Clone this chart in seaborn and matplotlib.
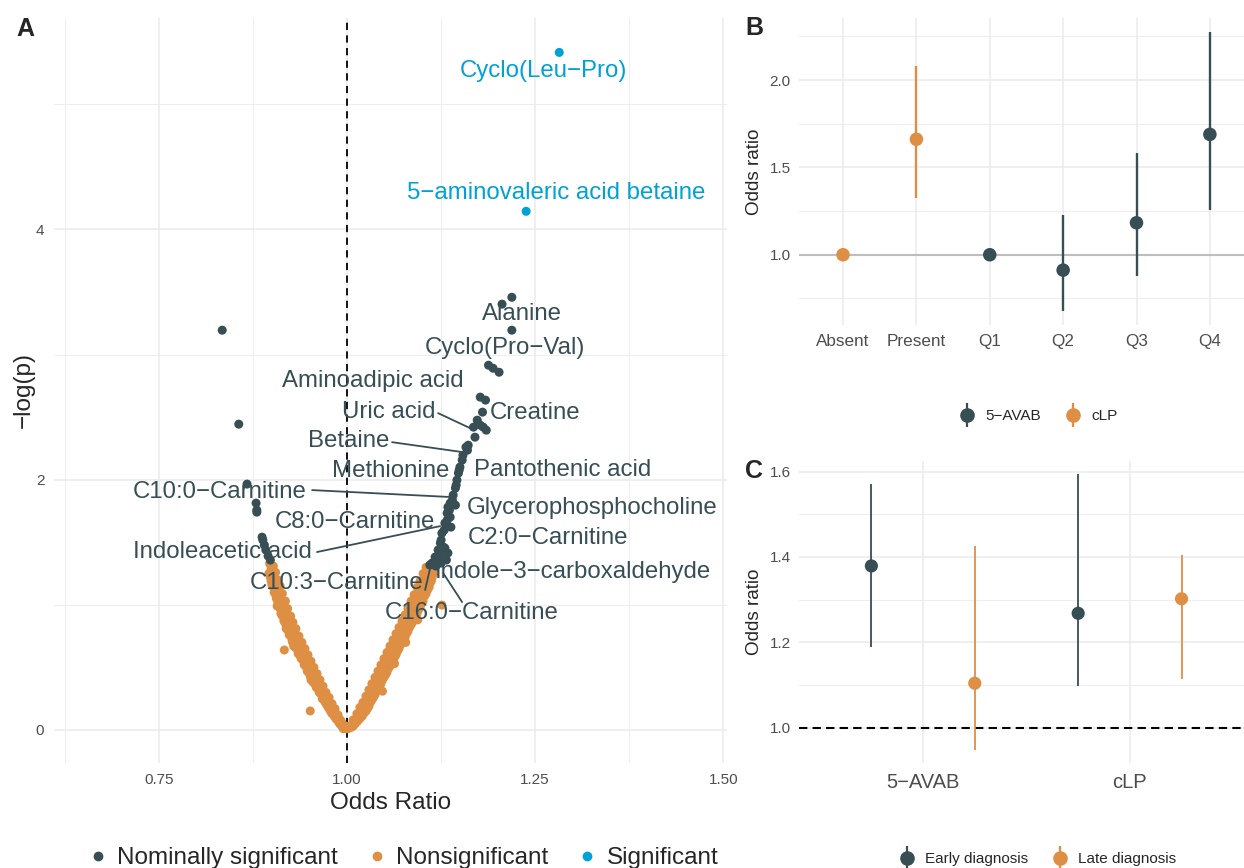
import numpy as np
import pandas as pd
import matplotlib
matplotlib.use("Agg")
import matplotlib.pyplot as plt
import seaborn as sns
from matplotlib.lines import Line2D
from matplotlib.legend_handler import HandlerTuple

sns.set_style("white")
plt.rcParams['font.family'] = ['Liberation Sans', 'DejaVu Sans']

DARK = "#374E55"
ORANGE = "#DF8F44"
BLUE = "#00A1D5"
GRID = "#EBEBEB"
TICKC = "#4D4D4D"

# ---------------- Panel A data ----------------
sig_or = [1.282, 1.238]
sig_logp = [5.415, 4.145]

nom_or = [0.834, 0.856, 0.867, 0.879, 0.880, 0.880, 0.887, 0.888, 0.890, 0.892, 0.895, 0.898,
          1.219, 1.206, 1.219, 1.188, 1.194, 1.202,
          1.177, 1.184, 1.180, 1.173, 1.168, 1.177, 1.181, 1.185, 1.170, 1.161, 1.160, 1.158,
          1.153, 1.154, 1.150, 1.148, 1.149, 1.146, 1.144, 1.145, 1.140, 1.134, 1.137, 1.133,
          1.137, 1.130, 1.133, 1.126, 1.129, 1.124, 1.125, 1.121, 1.128, 1.117, 1.124, 1.113,
          1.120, 1.130, 1.110, 1.118, 1.125, 1.132, 1.134, 1.141, 1.136, 1.138, 1.144]
nom_logp = [3.195, 2.444, 1.965, 1.813, 1.757, 1.741, 1.541, 1.518, 1.478, 1.438, 1.390, 1.358,
            3.458, 3.403, 3.195, 2.915, 2.891, 2.859,
            2.660, 2.636, 2.540, 2.476, 2.420, 2.436, 2.420, 2.396, 2.340, 2.276, 2.236, 2.260,
            2.157, 2.196, 2.101, 2.053, 2.077, 1.997, 1.933, 1.957, 1.837, 1.781, 1.813, 1.733,
            1.701, 1.653, 1.677, 1.573, 1.597, 1.494, 1.518, 1.438, 1.462, 1.382, 1.398, 1.334,
            1.358, 1.454, 1.318, 1.310, 1.334, 1.358, 1.414, 1.877, 1.757, 1.621, 1.797]

nonsig_or = [
    # left branch
    0.999, 0.994, 0.989, 0.985, 0.981, 0.977, 0.973, 0.969, 0.965, 0.961, 0.957, 0.953, 0.949, 0.945,
    0.941, 0.937, 0.933, 0.929, 0.925, 0.921, 0.918, 0.914, 0.911, 0.908, 0.905, 0.902, 0.899, 0.897,
    0.996, 0.992, 0.988, 0.984, 0.980, 0.976, 0.972, 0.968, 0.964, 0.960, 0.956, 0.952, 0.948,
    0.944, 0.940, 0.936, 0.932, 0.928, 0.925, 0.921, 0.918, 0.914, 0.911, 0.908, 0.905, 0.902,
    0.993, 0.988, 0.983, 0.978, 0.974, 0.970, 0.966, 0.962, 0.958, 0.954, 0.950, 0.946, 0.942,
    0.938, 0.934, 0.930, 0.926, 0.922, 0.918, 0.914, 0.911, 0.908, 0.905, 0.902, 0.899, 0.896,
    0.997, 0.991, 0.987, 0.983, 0.978, 0.975, 0.971, 0.967, 0.963, 0.959, 0.955, 0.951, 0.947,
    0.943, 0.939, 0.935, 0.931, 0.927, 0.923, 0.920, 0.916, 0.913, 0.910, 0.907, 0.904, 0.901,
    0.995, 0.990, 0.985, 0.980, 0.976, 0.972, 0.967, 0.963, 0.959, 0.955, 0.951, 0.947, 0.943,
    0.939, 0.935, 0.931, 0.927, 0.923, 0.919, 0.916, 0.912, 0.909, 0.906, 0.903, 0.900, 0.898,
    0.9166, 0.951, 0.907, 0.929, 0.952, 0.939, 0.928,
    # right branch
    1.001, 1.006, 1.011, 1.016, 1.021, 1.025, 1.029, 1.033, 1.037, 1.041, 1.045, 1.049, 1.053, 1.057,
    1.061, 1.065, 1.069, 1.073, 1.077, 1.081, 1.085, 1.089, 1.093, 1.097, 1.101, 1.105, 1.108, 1.111, 1.113,
    1.003, 1.008, 1.013, 1.017, 1.021, 1.025, 1.029, 1.033, 1.037, 1.041, 1.045, 1.049, 1.053,
    1.057, 1.061, 1.065, 1.069, 1.073, 1.077, 1.081, 1.085, 1.089, 1.093, 1.097, 1.101, 1.105,
    1.005, 1.011, 1.017, 1.022, 1.027, 1.031, 1.035, 1.039, 1.043, 1.047, 1.051, 1.055, 1.059,
    1.063, 1.067, 1.071, 1.075, 1.079, 1.083, 1.087, 1.091, 1.095, 1.099, 1.103, 1.107, 1.110, 1.113, 1.116,
    1.003, 1.009, 1.014, 1.019, 1.023, 1.027, 1.031, 1.035, 1.039, 1.043, 1.047, 1.051, 1.055,
    1.059, 1.063, 1.067, 1.071, 1.075, 1.079, 1.083, 1.087, 1.091, 1.095, 1.099, 1.103, 1.107, 1.110,
    1.008, 1.014, 1.020, 1.025, 1.029, 1.033, 1.037, 1.041, 1.045, 1.049, 1.053, 1.057, 1.061,
    1.065, 1.069, 1.073, 1.077, 1.081, 1.085, 1.089, 1.093, 1.097, 1.101, 1.105, 1.109, 1.112, 1.115,
    1.126, 1.047, 1.063, 1.078, 1.094]
nonsig_logp = [
    0.01, 0.05, 0.09, 0.13, 0.17, 0.22, 0.26, 0.31, 0.35, 0.39, 0.44, 0.49, 0.53, 0.58,
    0.62, 0.67, 0.72, 0.77, 0.83, 0.89, 0.94, 1.01, 1.06, 1.12, 1.17, 1.23, 1.29, 1.33,
    0.02, 0.07, 0.12, 0.17, 0.21, 0.26, 0.30, 0.35, 0.40, 0.45, 0.50, 0.55, 0.60,
    0.65, 0.70, 0.75, 0.81, 0.86, 0.91, 0.97, 1.03, 1.09, 1.15, 1.20, 1.26, 1.31,
    0.03, 0.07, 0.11, 0.15, 0.19, 0.23, 0.28, 0.32, 0.36, 0.41, 0.45, 0.50, 0.55,
    0.59, 0.64, 0.69, 0.74, 0.79, 0.85, 0.91, 0.97, 1.02, 1.08, 1.14, 1.19, 1.25,
    0.03, 0.08, 0.11, 0.15, 0.20, 0.24, 0.28, 0.33, 0.37, 0.42, 0.46, 0.51, 0.56,
    0.60, 0.65, 0.70, 0.75, 0.80, 0.86, 0.92, 0.98, 1.04, 1.09, 1.14, 1.20, 1.26,
    0.01, 0.05, 0.09, 0.13, 0.17, 0.21, 0.25, 0.30, 0.34, 0.38, 0.43, 0.47, 0.52,
    0.57, 0.61, 0.66, 0.71, 0.76, 0.81, 0.87, 0.93, 0.99, 1.05, 1.10, 1.16, 1.22,
    0.639, 0.152, 0.99, 0.67, 0.40, 0.58, 0.70,
    0.01, 0.04, 0.08, 0.12, 0.16, 0.20, 0.25, 0.29, 0.34, 0.39, 0.44, 0.49, 0.54, 0.59,
    0.64, 0.68, 0.73, 0.78, 0.83, 0.88, 0.93, 0.98, 1.04, 1.09, 1.14, 1.19, 1.24, 1.29, 1.33,
    0.03, 0.08, 0.13, 0.18, 0.22, 0.27, 0.32, 0.37, 0.42, 0.47, 0.52, 0.57, 0.62,
    0.67, 0.72, 0.77, 0.82, 0.87, 0.92, 0.97, 1.03, 1.08, 1.14, 1.19, 1.25, 1.30,
    0.02, 0.05, 0.09, 0.13, 0.17, 0.22, 0.26, 0.31, 0.35, 0.40, 0.44, 0.49, 0.54,
    0.58, 0.63, 0.68, 0.72, 0.77, 0.82, 0.86, 0.91, 0.96, 1.01, 1.07, 1.12, 1.17, 1.22, 1.28,
    0.02, 0.06, 0.10, 0.14, 0.18, 0.23, 0.27, 0.32, 0.36, 0.41, 0.46, 0.51, 0.56,
    0.61, 0.66, 0.70, 0.75, 0.80, 0.85, 0.90, 0.95, 1.00, 1.06, 1.11, 1.16, 1.21, 1.27,
    0.03, 0.07, 0.11, 0.15, 0.19, 0.24, 0.28, 0.33, 0.37, 0.42, 0.46, 0.51, 0.56,
    0.60, 0.65, 0.70, 0.74, 0.79, 0.84, 0.88, 0.93, 0.98, 1.03, 1.09, 1.14, 1.19, 1.25,
    0.998, 0.31, 0.53, 0.70, 0.88]

group_names = ["Nominally significant", "Nonsignificant", "Significant"]
group_colors = [DARK, ORANGE, BLUE]

# repelled label placement (data coords) and colours
label_text = ["Cyclo(Leu−Pro)", "5−aminovaleric acid betaine", "Alanine", "Cyclo(Pro−Val)",
              "Aminoadipic acid", "Uric acid", "Creatine", "Betaine", "Methionine",
              "Pantothenic acid", "C10:0−Carnitine", "Glycerophosphocholine", "C8:0−Carnitine",
              "C2:0−Carnitine", "Indoleacetic acid", "C10:3−Carnitine",
              "Indole−3−carboxaldehyde", "C16:0−Carnitine"]
label_x = [1.2606, 1.278, 1.2327, 1.210, 1.0346, 1.0559, 1.250, 1.0027, 1.0585, 1.286,
           0.8311, 1.3258, 1.0106, 1.2673, 0.8338, 0.9867, 1.3005, 1.166]
label_y = [5.264, 4.289, 3.323, 3.051, 2.788, 2.540, 2.532, 2.308, 2.069, 2.077,
           1.901, 1.773, 1.661, 1.534, 1.422, 1.174, 1.262, 0.934]
label_sig = [True, True] + [False] * 16
seg_x0 = [1.121, 1.0598, 0.9535, 0.960, 1.1529, 1.1037]
seg_y0 = [2.532, 2.300, 1.917, 1.422, 1.022, 1.118]
seg_x1 = [1.1636, 1.1543, 1.1396, 1.1237, 1.1277, 1.1104]
seg_y1 = [2.412, 2.220, 1.861, 1.629, 1.254, 1.294]

# ---------------- Panel B data ----------------
b_cats = ["Absent", "Present", "Q1", "Q2", "Q3", "Q4"]
b_group = ["cLP", "cLP", "5−AVAB", "5−AVAB", "5−AVAB", "5−AVAB"]
b_or = [1.0, 1.661, 1.0, 0.912, 1.183, 1.689]
b_lo = [1.0, 1.325, 1.0, 0.680, 0.878, 1.256]
b_hi = [1.0, 2.082, 1.0, 1.227, 1.580, 2.273]
b_groups = ["5−AVAB", "cLP"]
b_colors = [DARK, ORANGE]

# ---------------- Panel C data ----------------
c_cats = ["5−AVAB", "cLP"]
c_timing = ["Early diagnosis", "Late diagnosis"]
c_early_or = [1.379, 1.268]
c_early_lo = [1.189, 1.098]
c_early_hi = [1.571, 1.594]
c_late_or = [1.104, 1.302]
c_late_lo = [0.948, 1.113]
c_late_hi = [1.426, 1.405]

# ---------------- figure ----------------
W, H = 1244, 868
fig = plt.figure(figsize=(W / 100, H / 100), dpi=100)


def rect(x0, y0, x1, y1):
    return [x0 / W, 1 - y1 / H, (x1 - x0) / W, (y1 - y0) / H]


axA = fig.add_axes(rect(54, 18, 727, 763))
axB = fig.add_axes(rect(799, 18, 1244, 325))
axC = fig.add_axes(rect(799, 461, 1244, 763))

for ax in (axA, axB, axC):
    for s in ax.spines.values():
        s.set_visible(False)
    ax.set_axisbelow(True)
    ax.tick_params(which='both', length=0, labelcolor=TICKC)

# ---- Panel A ----
dfA = pd.DataFrame({
    "OR": nonsig_or + nom_or + sig_or,
    "logp": nonsig_logp + nom_logp + sig_logp,
    "group": ["Nonsignificant"] * len(nonsig_or) + ["Nominally significant"] * len(nom_or)
             + ["Significant"] * len(sig_or),
})
sns.scatterplot(data=dfA, x="OR", y="logp", hue="group", hue_order=group_names,
                palette=dict(zip(group_names, group_colors)), s=42, linewidth=0,
                alpha=1, legend=False, ax=axA, zorder=3)
axA.axvline(1.0, color="black", lw=1.3, ls=(0, (4, 3)), zorder=2)
for x0, y0, x1, y1 in zip(seg_x0, seg_y0, seg_x1, seg_y1):
    axA.plot([x0, x1], [y0, y1], color=DARK, lw=1.3, zorder=4)
for t, x, y, sg in zip(label_text, label_x, label_y, label_sig):
    axA.text(x, y, t, ha="center", va="center", fontsize=17.3,
             color=BLUE if sg else DARK, zorder=5)
axA.set_xlim(0.6104, 1.505)
axA.set_ylim(-0.264, 5.69)
axA.set_xticks([0.75, 1.0, 1.25, 1.5])
axA.set_xticklabels(["0.75", "1.00", "1.25", "1.50"])
axA.set_xticks([0.625, 0.875, 1.125, 1.375], minor=True)
axA.set_yticks([0, 2, 4])
axA.set_yticks([1, 3, 5], minor=True)
axA.grid(which="major", color=GRID, lw=1.1)
axA.grid(which="minor", color=GRID, lw=0.6)
axA.tick_params(labelsize=11, pad=7)
axA.set_xlabel("Odds Ratio", fontsize=17.5, labelpad=4)
axA.set_ylabel("−log(p)", fontsize=17.5, labelpad=1)

# ---- Panel B ----
b_pos = np.arange(len(b_cats))
dfB = pd.DataFrame({"pos": b_pos, "OR": b_or, "lo": b_lo, "hi": b_hi, "group": b_group})
axB.axhline(1.0, color="#BEBEBE", lw=1.5, zorder=1)
for g, c in zip(b_groups, b_colors):
    sub = dfB[dfB.group == g]
    axB.vlines(sub.pos, sub.lo, sub.hi, color=c, lw=1.7, zorder=2)
sns.scatterplot(data=dfB, x="pos", y="OR", hue="group", hue_order=b_groups,
                palette=dict(zip(b_groups, b_colors)), s=95, linewidth=0,
                legend=False, ax=axB, zorder=3)
axB.set_xlim(-0.6, 5.465)
axB.set_ylim(0.598, 2.355)
axB.set_xticks(b_pos)
axB.set_xticklabels(b_cats)
axB.set_yticks([1.0, 1.5, 2.0])
axB.set_yticklabels(["1.0", "1.5", "2.0"])
axB.set_yticks([0.75, 1.25, 1.75, 2.25], minor=True)
axB.grid(which="major", color=GRID, lw=1.1)
axB.grid(which="minor", axis="y", color=GRID, lw=0.6)
axB.tick_params(axis="x", labelsize=12.3, pad=6.5)
axB.tick_params(axis="y", labelsize=11, pad=6)
axB.set_xlabel("")
axB.set_ylabel("Odds ratio", fontsize=13.6, labelpad=5)

# ---- Panel C ----
c_pos = np.arange(len(c_cats))
dfC = pd.DataFrame({
    "pos": np.concatenate([c_pos - 0.25, c_pos + 0.25]),
    "OR": c_early_or + c_late_or,
    "lo": c_early_lo + c_late_lo,
    "hi": c_early_hi + c_late_hi,
    "timing": [c_timing[0]] * len(c_cats) + [c_timing[1]] * len(c_cats),
})
axC.axhline(1.0, color="black", lw=1.5, ls=(0, (4, 2.5)), zorder=1)
for g, c in zip(c_timing, [DARK, ORANGE]):
    sub = dfC[dfC.timing == g]
    axC.vlines(sub.pos, sub.lo, sub.hi, color=c, lw=1.3, zorder=2)
sns.scatterplot(data=dfC, x="pos", y="OR", hue="timing", hue_order=c_timing,
                palette=dict(zip(c_timing, [DARK, ORANGE])), s=90, linewidth=0,
                legend=False, ax=axC, zorder=3)
axC.set_xlim(-0.6, 1.552)
axC.set_ylim(0.917, 1.625)
axC.set_xticks(c_pos)
axC.set_xticklabels(c_cats)
axC.set_yticks([1.0, 1.2, 1.4, 1.6])
axC.set_yticklabels(["1.0", "1.2", "1.4", "1.6"])
axC.set_yticks([1.1, 1.3, 1.5], minor=True)
axC.grid(which="major", color=GRID, lw=1.1)
axC.grid(which="minor", axis="y", color=GRID, lw=0.6)
axC.tick_params(axis="x", labelsize=14.5, pad=7)
axC.tick_params(axis="y", labelsize=11, pad=6)
axC.set_xlabel("")
axC.set_ylabel("Odds ratio", fontsize=13.6, labelpad=5)

# ---- legends ----
hA = [Line2D([], [], marker="o", ls="none", color=c, markersize=6) for c in group_colors]
fig.legend(hA, group_names, loc="center", bbox_to_anchor=(402 / W, 1 - 858 / H), ncol=3,
           frameon=False, fontsize=17.5, handletextpad=0.3, columnspacing=1.1, handlelength=1.0)


def pr_handle(c):
    return (Line2D([], [], marker="|", ls="none", color=c, markersize=17, markeredgewidth=1.6),
            Line2D([], [], marker="o", ls="none", color=c, markersize=9.5))


fig.legend([pr_handle(c) for c in b_colors], b_groups, loc="center",
           bbox_to_anchor=(1038 / W, 1 - 416 / H), ncol=2, frameon=False, fontsize=11,
           handler_map={tuple: HandlerTuple(ndivide=1)}, handletextpad=0.6,
           columnspacing=1.5, handlelength=1.2)
fig.legend([pr_handle(c) for c in [DARK, ORANGE]], c_timing, loc="center",
           bbox_to_anchor=(1037 / W, 1 - 859 / H), ncol=2, frameon=False, fontsize=11,
           handler_map={tuple: HandlerTuple(ndivide=1)}, handletextpad=0.6,
           columnspacing=1.5, handlelength=1.2)

# ---- panel letters ----
for t, x, y in [("A", 25, 29), ("B", 754, 28), ("C", 754, 471)]:
    fig.text(x / W, 1 - y / H, t, fontsize=18, fontweight="bold", ha="center", va="center")

fig.savefig("out.png", dpi=100)
